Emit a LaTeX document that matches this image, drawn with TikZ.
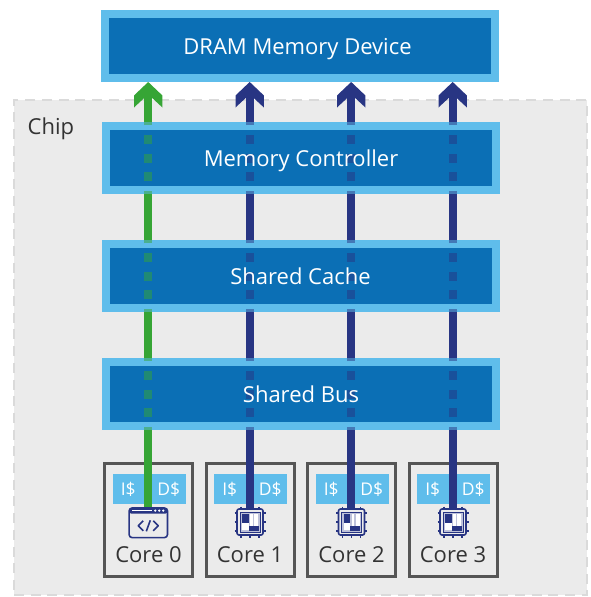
\documentclass[tikz,border=0pt]{standalone}
\usepackage{fontspec}
\setmainfont{Open Sans}
\usetikzlibrary{calc}
\definecolor{lightb}{HTML}{5FBDEB}
\definecolor{boxb}{HTML}{0B6FB5}
\definecolor{greenA}{HTML}{36A535}
\definecolor{navy}{HTML}{283583}
\definecolor{chipbg}{HTML}{EBEBEB}
\definecolor{chipdash}{HTML}{DADADA}
\definecolor{coreline}{HTML}{555555}
\definecolor{txt}{HTML}{333333}
\tikzset{
  unitbox/.style={draw=lightb,fill=boxb,line width=8pt,minimum width=390pt,minimum height=64pt,inner sep=0pt},
  unittxt/.style={text=white,inner sep=0pt,anchor=base,font=\fontsize{22}{24}\selectfont},
  corebox/.style={draw=coreline,line width=3pt,minimum width=88pt,minimum height=113pt,inner sep=0pt},
  cachebox/.style={fill=lightb,minimum width=73pt,minimum height=30pt,inner sep=0pt},
  cachetxt/.style={text=white,inner sep=0pt,font=\fontsize{17.5}{18}\selectfont},
  corelabel/.style={text=txt,inner sep=0pt,font=\fontsize{22}{24}\selectfont},
  shaft/.style={line width=8pt},
  overdash/.style={line width=8pt,draw opacity=.5,dash pattern=on 9pt off 9.7pt,dash phase=6pt},
  chipregion/.style={draw=chipdash,fill=chipbg,line width=2pt,dash pattern=on 10pt off 6.7pt,minimum width=573pt,minimum height=495pt,inner sep=0pt},
  iconline/.style={draw=navy,line width=1.6pt,line join=round},
}
\begin{document}
\begin{tikzpicture}[x=1pt,y=-1pt]
\useasboundingbox (0,0) rectangle (590,597);
\fill[white] (0,0) rectangle (590,597);
\node[chipregion] (chip) at (300.5,347.5) {};
\node[text=txt,inner sep=0pt,font=\fontsize{22}{24}\selectfont,anchor=base west] (chiplabel) at (27.5,134) {Chip};
% cores
\foreach \i/\cx in {0/148.5,1/250,2/351.5,3/453}{
  \node[corebox] (core\i) at (\cx+0.3,519.8) {};
  \node[cachebox] (cache\i) at (\cx+0.8,489) {};
  \node[cachetxt] (is\i) at (\cx-20.3,489.5) {I\$};
  \node[cachetxt] (ds\i) at (\cx+20.3,489.5) {D\$};
  \node[corelabel,anchor=base] (lab\i) at (\cx,562) {Core \i};
  \coordinate (port\i) at (\cx-0.3,510);
}
% boxes and arrow shafts
\foreach \i/\col in {0/greenA,1/navy,2/navy,3/navy}{
  \draw[shaft,draw=\col] (port\i) -- (port\i |- 0,95);
}
\node[unitbox] (mc) at (300.8,158) {};
\node[unitbox] (sc) at (300.8,276) {};
\node[unitbox] (sb) at (300.8,394) {};
\node[unitbox] (dram) at (300,46) {};
% dashes over boxes and arrow heads
\foreach \i/\col in {0/greenA,1/navy,2/navy,3/navy}{
  \foreach \b in {mc,sc,sb}{
    \draw[overdash,draw=\col] (port\i |- \b.south) -- (port\i |- \b.north);
  }
  \coordinate (tip\i) at (port\i |- dram.south);
  \fill[\col] (tip\i) -- ++(14.2,13.5) -- ++(0,12) -- ++(-10.2,-9.5) -- ++(-8,0) -- ++(-10.2,9.5) -- ++(0,-12) -- cycle;
}
\node[unittxt] (dramtxt) at (297.5,54.5) {DRAM Memory Device};
\node[unittxt] (mctxt) at (301,166.5) {Memory Controller};
\node[unittxt] (sctxt) at (300.5,284.5) {Shared Cache};
\node[unittxt] (sbtxt) at (301,402.5) {Shared Bus};
% code window icon
\begin{scope}[shift={(148.3,522.8)}]
  \draw[iconline,fill=chipbg,rounded corners=3pt] (-19.2,-14.8) rectangle (19.2,14.8);
  \fill[navy,rounded corners=2pt] (-19.2,-14.8) rectangle (19.2,-9.3);
  \fill[white] (-16,-12.8) rectangle (4,-11.8);
  \foreach \dx in {7,11,15}{\fill[white] (\dx,-12.2) circle (1.2);}
  \draw[iconline] (-5,-2) -- (-10,3) -- (-5,8);
  \draw[iconline] (5,-2) -- (10,3) -- (5,8);
  \draw[iconline] (2,-2.5) -- (-2,8.5);
\end{scope}
% processor icons
\foreach \cx in {250,351.5,453}{
\begin{scope}[shift={(\cx,522)}]
  \foreach \d in {-9,0,9}{
    \draw[navy,line width=1.5pt] (\d,-15.5) -- (\d,15.5);
    \draw[navy,line width=1.5pt] (-15.5,\d) -- (15.5,\d);
  }
  \draw[iconline,fill=chipbg,rounded corners=2pt] (-13,-13) rectangle (13,13);
  \fill[white!70!navy] (-10,-10) rectangle (10,10);
  \fill[navy] (-8,-8.5) rectangle (-1.3,0.7);
  \fill[white] (-8,0.7) rectangle (-1.3,8);
  \fill[navy] (-1.3,4) rectangle (8.5,9);
  \fill[white] (0,-8.5) rectangle (2.5,4);
  \fill[white] (4,-8.5) rectangle (8,4);
  \draw[navy,line width=1pt] (-10,-10) rectangle (10,10);
\end{scope}
}
\end{tikzpicture}
\end{document}
